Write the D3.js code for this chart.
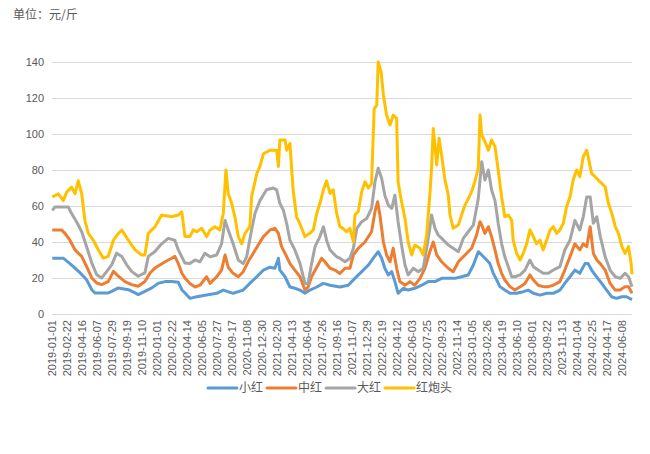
<!DOCTYPE html>
<html><head><meta charset="utf-8">
<script src="https://cdn.jsdelivr.net/npm/d3@7"></script>
<style>
html,body{margin:0;padding:0;background:#fff;}
svg{display:block;font-family:"Microsoft YaHei","Noto Sans CJK SC","Noto Sans",sans-serif;}
</style></head>
<body>
<svg id="chart" width="650" height="454"></svg>
<script>
// ---- data ----
const dateLabels = ["2019-01-01","2019-02-22","2019-04-16","2019-06-07","2019-07-29","2019-09-19","2019-11-10",
"2020-01-01","2020-02-22","2020-04-14","2020-06-05","2020-07-27","2020-09-17","2020-11-08","2020-12-30",
"2021-02-20","2021-04-13","2021-06-04","2021-07-26","2021-09-16","2021-11-07","2021-12-29",
"2022-02-19","2022-04-12","2022-06-03","2022-07-25","2022-09-23","2022-11-14",
"2023-01-05","2023-02-26","2023-04-19","2023-06-10","2023-08-01","2023-09-22","2023-11-13",
"2024-01-04","2024-02-25","2024-04-17","2024-06-08"];
const labelStep = 52;      // categories between labels
const lastIndex = 2011;    // index of last daily observation
const yTicks = [0,20,40,60,80,100,120,140];
const seriesNames = ["小红","中红","大红","红炮头"];

// [category index, price]
const xiaohong = [[1,31],[39,31],[62,28],[80,25.5],[103,22],[120,19],[138,13.5],[149,11.7],[195,11.7],[207,12.6],[230,14.5],[265,13.5],[288,11.7],[299,10.8],[322,12.6],[346,14.5],[368,17],[392,18],[415,18],[438,17.6],[450,13.5],[461,11.7],
[478,8.7],[502,9.6],[536,10.5],[571,11.5],[594,13.3],[628,11.5],[663,13.3],[686,17],[710,20.7],[733,24.4],[756,26],[773,25.4],[785,31],[790,24.4],[808,20.7],[825,15],[842,14.3],[860,13.3],[877,11.5],[894,13.3],[918,15],[941,17],[964,16],[998,15],
[1027,16],[1050,19.8],[1074,23.5],[1097,27.2],[1114,31],[1131,34.6],[1143,31],[1154,25.4],[1166,21.7],[1178,23.5],[1189,18],[1200,11.5],[1218,14.3],[1235,13.3],[1258,14.3],[1282,16],[1304,18],[1328,18],[1351,19.8],[1374,19.8],[1397,19.8],[1420,20.7],[1443,21.7],[1461,27.2],[1478,34.6],[1490,32.8],
[1507,30],[1518,28],[1530,22.6],[1542,18.9],[1553,15.2],[1570,13.3],[1588,11.5],[1611,11.5],[1634,12.4],[1651,13.3],[1669,11.5],[1692,10.5],[1715,11.5],[1738,11.5],[1761,13.3],[1778,17],[1796,20.7],[1813,24.4],[1830,22.6],[1848,28],[1859,28],[1871,24.4],[1888,20.7],[1906,17],[1923,13.3],[1940,9.6],[1957,8.7],[1975,9.6],[1992,9.6],[2011,8]];

const zhonghong = [[1,46.6],[34,46.6],[45,44.8],[62,41],[80,35.6],[91,33.8],[103,32],[120,26.4],[138,20],[155,17.2],[172,16.3],[195,18],[213,23.7],[230,21],[253,18],[276,16.3],[299,15.4],[322,18],[340,22.8],[357,25.5],[392,29],[415,31],[426,32],[438,28],[450,22.8],[461,20],
[478,17],[496,15],[513,16],[536,20.7],[548,17],[571,20.7],[588,24.4],[600,32.8],[611,26],[628,22.6],[646,20.7],[663,23.5],[680,29],[698,33.7],[715,38.3],[733,43],[756,46.7],[773,47.6],[785,44.8],[796,37.4],[814,31.8],[825,28],[842,24.4],[860,20.7],[877,13.3],[888,15],[900,20.7],[918,26],[935,31],[946,29],[964,25.4],[981,24.4],[998,22.5],
[1016,25.4],[1033,25.4],[1045,32.8],[1062,36.5],[1085,40],[1108,45.7],[1120,57],[1129,62.4],[1137,55],[1149,40],[1160,32.8],[1172,29],[1183,36.5],[1195,25.4],[1206,18],[1224,16],[1241,18],[1258,16],[1276,19.8],[1293,25.4],[1310,34.6],[1322,40],[1334,32.8],[1351,29],[1374,25.4],[1391,23.5],[1409,29],[1432,32.8],[1455,36.5],[1472,43.9],[1484,51.3],[1490,49.4],
[1501,44.8],[1513,48.5],[1524,43],[1536,35.6],[1547,28],[1559,22.6],[1570,18.9],[1588,15.2],[1605,13.3],[1623,15.2],[1640,17],[1657,21.7],[1669,18.9],[1686,16],[1703,15.2],[1721,15.2],[1738,16],[1761,18],[1778,24.4],[1796,31.8],[1813,39],[1830,35.6],[1842,39],[1854,37.4],[1866,48.5],[1877,33.7],[1889,30],[1901,28],[1918,24.4],[1935,17],[1953,13.3],[1970,13.3],[1987,15.2],[1999,15.2],[2011,11.5]];

const dahong = [[1,57.6],[10,59.4],[57,59.4],[68,55.8],[86,51],[103,45.7],[120,37.4],[138,28.3],[155,21.8],[172,20],[190,23.7],[207,27.3],[224,33.8],[242,32],[259,27.3],[276,23.7],[299,21],[322,22.8],[334,32],[357,34.7],[380,39],[403,42],[426,41],[438,35.6],[461,28.3],
[478,28],[496,30],[513,29],[530,33.7],[548,31.8],[571,32.8],[588,39],[600,52],[611,46.7],[628,39],[646,30],[663,28],[675,31.8],[692,46.7],[704,56],[721,63],[744,69],[767,70],[779,69],[790,61.5],[802,57.8],[814,50],[825,41],[842,35.6],[860,28],[877,17],[888,17],[900,28],[912,37.4],[929,43],[941,48.5],[952,41],[964,35.6],[975,33.7],[987,31.8],
[998,31],[1016,29],[1033,31],[1045,36.5],[1057,47.6],[1074,51.3],[1091,53],[1108,58.7],[1120,73.5],[1131,81],[1143,75.4],[1154,66],[1166,60.5],[1178,58.7],[1189,66],[1200,51.3],[1212,38.3],[1224,27.2],[1235,21.7],[1253,25.4],[1270,23.5],[1287,25.4],[1299,36.5],[1310,47.6],[1316,55],[1328,47.6],[1339,43.9],[1351,42],[1374,38.3],[1391,36.5],[1409,34.6],[1426,42],[1443,45.7],[1461,49.4],[1478,64],[1490,84.6],
[1501,74.4],[1513,80],[1524,69],[1536,63],[1547,50.4],[1559,39],[1570,31.8],[1582,26.3],[1594,20.7],[1605,20.7],[1623,21.7],[1640,24.4],[1657,30],[1669,26.3],[1686,24.4],[1703,22.6],[1721,22.6],[1738,24.4],[1761,26.3],[1778,35.6],[1796,41],[1813,52],[1830,46.7],[1842,54],[1854,65],[1866,65],[1877,50.4],[1889,54],[1901,43],[1918,31.8],[1935,24.4],[1953,20.7],[1970,19.8],[1987,22.6],[1999,20.7],[2011,15.2]];

const hongpaotou = [[1,65],[22,66.8],[39,63],[51,67.7],[68,70.5],[80,66.8],[91,74],[103,66.8],[114,52],[126,44.8],[143,41],[161,35.6],[178,31],[195,32],[213,41],[230,44.8],[242,46.6],[265,41],[288,35.6],[311,32.8],[322,32.8],[334,44.8],[357,48.4],[380,55],[415,54],[438,55],[450,56.7],[461,43],
[478,43],[490,46.7],[502,45.7],[519,47.6],[536,43],[548,46.7],[565,48.5],[582,46.7],[594,56],[603,80],[611,67],[623,61.5],[634,54],[646,43],[658,39],[669,44.8],[686,48.5],[692,65],[710,78],[721,82],[733,89],[756,91],[779,91],[785,82],[790,96.7],[808,96.7],[814,91],[825,94.8],[836,69],[848,54],[860,50],[877,43],[894,44.8],[906,46.7],[918,56],[929,61.5],[941,69],[952,74],[964,67],[975,69],[987,56],[998,48.5],
[1009,47.6],[1021,45.7],[1033,47.6],[1045,40],[1050,55],[1062,57],[1074,68],[1085,73.5],[1097,70],[1108,72.6],[1117,114],[1126,116],[1131,140],[1141,134.6],[1149,121.7],[1160,110.5],[1172,105],[1183,110.5],[1195,108.7],[1200,73.5],[1212,62.4],[1224,53],[1235,40],[1247,32.8],[1258,38.3],[1276,36.5],[1287,32.8],[1299,43.9],[1310,66],[1316,81],[1322,103],[1334,82.8],[1342,97.6],[1351,88],[1362,75],[1374,66],[1380,55],[1391,47.6],[1409,49.4],[1420,55],[1432,60.5],[1443,64],[1455,68],[1466,73.5],[1478,81],[1484,110.5],[1490,99.4],[1501,95.7],
[1513,91],[1524,96.7],[1536,93],[1547,80],[1559,65],[1570,54],[1582,55],[1594,52],[1599,41],[1611,33.7],[1623,30],[1634,33.7],[1646,39],[1657,46.7],[1669,43],[1680,39],[1692,41],[1703,35.6],[1715,41],[1727,46.7],[1738,48.5],[1750,44.8],[1761,46.7],[1773,50.4],[1784,59.6],[1796,65],[1807,74.4],[1819,80],[1830,76.3],[1842,87.4],[1854,91],[1859,87.4],[1871,78],[1883,76.3],[1894,74.4],[1906,72.6],[1918,70.7],[1929,61.5],[1941,56],[1953,48.5],[1964,44.8],[1976,37.4],[1987,33.7],[1999,37.4],[2008,28],[2011,22]];

const seriesData = [xiaohong, zhonghong, dahong, hongpaotou];
const seriesColors = ["#5B9BD5","#ED7D31","#A5A5A5","#FFC000"];

// ---- chart ----
(function draw(){
const svg = d3.select("#chart");
const mLeft = 52, mRight = 632, mTop = 62, mBottom = 314;
const x = d3.scaleLinear().domain([0, lastIndex]).range([mLeft, mRight]);
const y = d3.scaleLinear().domain([0, 140]).range([mBottom, mTop]);
const textColor = "#595959";

svg.append("text").attr("x", 13).attr("y", 19).attr("font-size", 12).attr("fill", textColor).text("单位：元/斤");

// y axis + gridlines
const yAxis = svg.append("g").attr("transform", `translate(${mLeft},0)`)
  .call(d3.axisLeft(y).tickValues(yTicks).tickSize(-(mRight-mLeft)).tickPadding(8));
yAxis.select(".domain").remove();
yAxis.selectAll(".tick line").attr("stroke", "#D9D9D9").attr("stroke-width", 1);
yAxis.selectAll(".tick text").attr("fill", textColor).attr("font-size", 11).attr("font-family", null);

// x axis
const xAxis = svg.append("g").attr("transform", `translate(0,${mBottom})`)
  .call(d3.axisBottom(x).tickValues(dateLabels.map((d,i)=>i*labelStep)).tickSize(0)
    .tickFormat((d,i)=>dateLabels[i]));
xAxis.select(".domain").attr("stroke", "#D9D9D9").attr("d", `M${mLeft},0.5H${mRight}`);
xAxis.selectAll(".tick text")
  .attr("fill", textColor).attr("font-size", 11).attr("font-family", null)
  .attr("text-anchor", "end").attr("transform", "rotate(-90)")
  .attr("x", -6).attr("y", 0).attr("dy", "0.35em");

// lines
const line = d3.line().x(d => x(d[0])).y(d => y(d[1])).curve(d3.curveLinear);
seriesData.forEach((s, i) => {
  svg.append("path").datum(s).attr("fill", "none").attr("stroke", seriesColors[i])
    .attr("stroke-width", 3).attr("stroke-linejoin", "round").attr("d", line);
});

// legend
const legend = svg.append("g").attr("transform", "translate(208,388)");
let lx = 0;
seriesNames.forEach((name, i) => {
  const g = legend.append("g").attr("transform", `translate(${lx},0)`);
  g.append("line").attr("x1", 0).attr("x2", 29).attr("y1", 0).attr("y2", 0)
    .attr("stroke", seriesColors[i]).attr("stroke-width", 3).attr("stroke-linecap", "round");
  const t = g.append("text").attr("x", 31).attr("y", 0).attr("dy", "0.35em")
    .attr("font-size", 12).attr("fill", textColor).text(name);
  lx += 31 + t.node().getComputedTextLength() + 4;
});
})();
</script>
</body></html>
